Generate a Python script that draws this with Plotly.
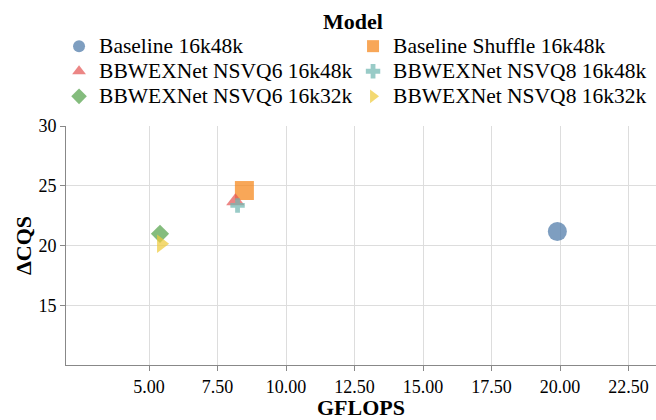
import plotly.graph_objects as go

models = ["Baseline 16k48k", "Baseline Shuffle 16k48k", "BBWEXNet NSVQ6 16k48k",
          "BBWEXNet NSVQ8 16k48k", "BBWEXNet NSVQ6 16k32k", "BBWEXNet NSVQ8 16k32k"]
gflops = [19.9, 8.48, 8.15, 8.23, 5.40, 5.44]
dcqs = [21.17, 24.6, 23.7, 23.35, 20.98, 20.14]
colors = ["#4c78a8", "#f58518", "#e45756", "#72b7b2", "#54a24b", "#eeca3b"]
symbols = ["circle", "square", "triangle-up", "cross", "diamond", "triangle-right"]
sizes = [19, 19, 16, 12, 14, 16]

x_ticks = [5.0, 7.5, 10.0, 12.5, 15.0, 17.5, 20.0, 22.5]
y_ticks = [15, 20, 25, 30]

fig = go.Figure()
for m, x, y, c, s, sz in zip(models, gflops, dcqs, colors, symbols, sizes):
    fig.add_trace(go.Scatter(x=[x], y=[y], mode="markers",
                             name=f"<span style='font-size:21.5px'>{m}</span>",
                             marker=dict(color=c, symbol=s, size=sz, opacity=0.72,
                                         line=dict(width=0))))

font = "Liberation Serif"
fig.update_layout(
    width=656, height=420,
    margin=dict(l=66, r=0, t=126, b=55, autoexpand=False),
    plot_bgcolor="white", paper_bgcolor="white",
    font=dict(family=font, size=18, color="black"),
    legend=dict(orientation="h", x=0.09, xref="container", xanchor="left",
                y=1.0, yanchor="top", yref="container",
                title=dict(text="<b>Model</b>", side="top center",
                           font=dict(size=22, family=font)),
                entrywidth=249, entrywidthmode="pixels",
                font=dict(size=17, family=font), itemsizing="constant", tracegroupgap=0),
    xaxis=dict(range=[1.97, 23.5], tickvals=x_ticks,
               ticktext=[f"{v:.2f}" for v in x_ticks], automargin=False,
               showgrid=True, gridcolor="#dddddd", zeroline=False,
               showline=True, linecolor="#888888", ticks="outside", ticklen=5,
               tickcolor="#888888", tickfont=dict(size=18, family=font),
               title=dict(text="<b>GFLOPS</b>", font=dict(size=22, family=font), standoff=4)),
    yaxis=dict(range=[10, 30], tickvals=y_ticks, automargin=False,
               showgrid=True, gridcolor="#dddddd", zeroline=False,
               showline=True, linecolor="#888888", ticks="outside", ticklen=5,
               tickcolor="#888888", tickfont=dict(size=18, family=font),
               title=dict(text="<b>ΔCQS</b>", font=dict(size=22, family=font), standoff=0)),
)
fig.write_html("out.html", post_script="document.body.style.margin='0px';",
               config={"displayModeBar": False})
